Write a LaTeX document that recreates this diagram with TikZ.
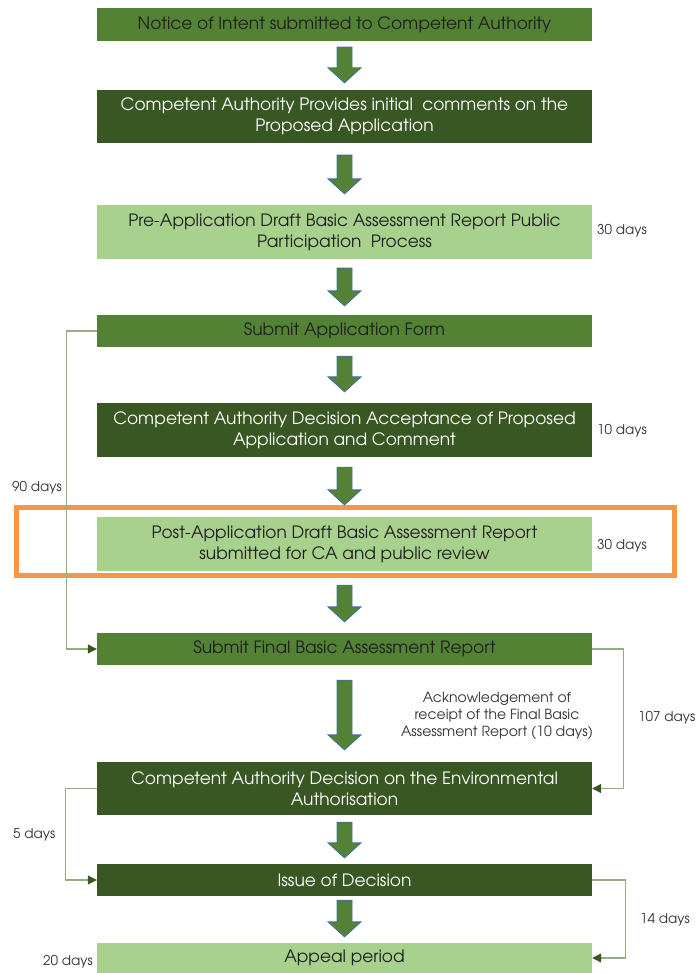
\documentclass[tikz,border=0pt]{standalone}
\usepackage{fontspec}
\setmainfont{texgyreadventor-regular.otf}
\usetikzlibrary{calc,arrows.meta}
\definecolor{midgreen}{HTML}{548235}
\definecolor{dkgreen}{HTML}{385723}
\definecolor{ltgreen}{HTML}{A9D18E}
\definecolor{arrblue}{HTML}{41719C}
\definecolor{linegreen}{HTML}{94AD83}
\definecolor{orng}{HTML}{F79646}
\definecolor{txtdark}{HTML}{1E1E1E}
\definecolor{lbl}{HTML}{333333}
\tikzset{
  box/.style={rectangle, minimum width=495pt, inner sep=0pt, align=center, font=\fontsize{17}{21}\selectfont},
  boxmid/.style={box, fill=midgreen, text=txtdark},
  boxdk/.style={box, fill=dkgreen, text=white},
  boxlt/.style={box, fill=ltgreen, text=txtdark},
  garr/.style={fill=midgreen, draw=arrblue, line width=0.9pt, line join=miter},
  conn/.style={draw=linegreen, line width=1.2pt, -{Triangle[length=9pt,width=9pt,color=dkgreen]}},
  lab/.style={text=lbl, font=\fontsize{13.5}{17}\selectfont, inner sep=0pt}
}
\newcommand\garrow[4]{\draw[garr] ($(#1.south)+(-7.5,#3)$) -- ($(#1.south)+(7.5,#3)$) -- ($(#2.north)+(7.5,-#4-15)$) -- ($(#2.north)+(16.5,-#4-15)$) -- ($(#2.north)+(0,-#4)$) -- ($(#2.north)+(-16.5,-#4-15)$) -- ($(#2.north)+(-7.5,-#4-15)$) -- cycle;}
\begin{document}
\begin{tikzpicture}[x=1pt,y=-1pt]
\useasboundingbox (0,0) rectangle (696,973);
\node[boxmid, minimum height=33pt] (n1) at (344.5,24.5) {Notice of Intent submitted to Competent Authority};
\node[boxdk, minimum height=53pt] (n2) at (344.5,116.5) {Competent Authority Provides initial\ \ comments on the\\Proposed Application};
\node[boxlt, minimum height=54pt] (n3) at (344.5,232) {Pre-Application Draft Basic Assessment Report Public\\Participation\ \ Process};
\node[boxmid, minimum height=32pt] (n4) at (344.5,331) {Submit Application Form};
\node[boxdk, minimum height=54pt] (n5) at (344.5,430) {Competent Authority Decision Acceptance of Proposed\\Application and Comment};
\node[boxlt, minimum height=54pt] (n6) at (344.5,544) {Post-Application Draft Basic Assessment Report\\submitted for CA and public review};
\node[boxmid, minimum height=32pt] (n7) at (344.5,649) {Submit Final Basic Assessment Report};
\node[boxdk, minimum height=53pt] (n8) at (344.5,788.5) {Competent Authority Decision on the Environmental\\Authorisation};
\node[boxdk, minimum height=32pt] (n9) at (344.5,880) {Issue of Decision};
\node[boxlt, minimum height=30pt] (n10) at (344.5,958) {Appeal period};
% highlight frame
\draw[orng, line width=5pt] (16.5,507.5) rectangle (674.5,575.5);
% block arrows
\garrow{n1}{n2}{6}{7}
\garrow{n2}{n3}{12}{11}
\garrow{n3}{n4}{9}{9}
\garrow{n4}{n5}{9}{11}
\garrow{n5}{n6}{10}{12}
\garrow{n6}{n7}{14}{11}
\garrow{n7}{n8}{15}{12}
\garrow{n8}{n9}{7}{6}
\garrow{n9}{n10}{4}{6}
% side connectors
\draw[conn] (n4.west) -- ++(-30,0) |- (n7.west);
\draw[conn] (n7.east) -- ++(31,0) |- (n8.east);
\draw[conn] (n8.west) -- ++(-31,0) |- (n9.west);
\draw[conn] (n9.east) -- ++(33,0) |- (n10.east);
% labels
\node[lab, anchor=west] (d1) at (597,230.5) {30 days};
\node[lab, anchor=west] (d2) at (597,430.5) {10 days};
\node[lab, anchor=west] (d3) at (597,545.5) {30 days};
\node[lab, anchor=west] (d4) at (12,487.5) {90 days};
\node[lab, anchor=west] (d5) at (638,717.5) {107 days};
\node[lab, anchor=west] (d6) at (13,834.5) {5 days};
\node[lab, anchor=west] (d7) at (640,919.5) {14 days};
\node[lab, anchor=east] (d8) at (93,961.5) {20 days};
\node[lab, align=center, font=\fontsize{14}{17}\selectfont] (ack) at (497,716) {Acknowledgement of\\receipt of the Final Basic\\Assessment Report (10 days)};
\end{tikzpicture}
\end{document}
